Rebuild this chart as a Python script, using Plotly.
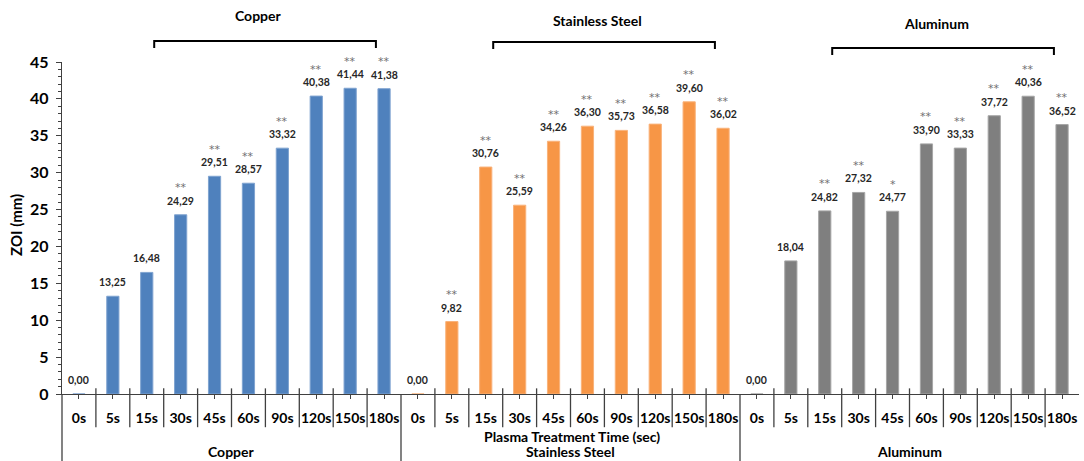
import plotly.graph_objects as go

# Zone of inhibition (mm) by plasma treatment time, for three metals
times = ["0s", "5s", "15s", "30s", "45s", "60s", "90s", "120s", "150s", "180s"]
materials = ["Copper", "Stainless Steel", "Aluminum"]

copper = [0.00, 13.25, 16.48, 24.29, 29.51, 28.57, 33.32, 40.38, 41.44, 41.38]
steel = [0.00, 9.82, 30.76, 25.59, 34.26, 36.30, 35.73, 36.58, 39.60, 36.02]
aluminum = [0.00, 18.04, 24.82, 27.32, 24.77, 33.90, 33.33, 37.72, 40.36, 36.52]

copper_sig = ["", "", "", "**", "**", "**", "**", "**", "**", "**"]
steel_sig = ["", "**", "**", "**", "**", "**", "**", "**", "**", "**"]
aluminum_sig = ["", "", "**", "**", "*", "**", "**", "**", "**", "**"]

series = [copper, steel, aluminum]
sigs = [copper_sig, steel_sig, aluminum_sig]
colors = ["#4F81BD", "#F79646", "#7F7F7F"]
edges = ["#7FA3D0", "#F9B27A", "#A6A6A6"]

FONT = "Lato"
n_t = len(times)
n_all = n_t * len(materials)

fig = go.Figure()
annotations = []
shapes = []


def xp(pos):
    # data position -> paper fraction on the [-0.5, n_all-0.5] axis
    return (pos + 0.5) / n_all


for g, (name, vals, sg) in enumerate(zip(materials, series, sigs)):
    xs = [g * n_t + i for i in range(n_t)]
    fig.add_trace(go.Bar(
        x=xs, y=vals, name=name, width=0.36,
        marker=dict(color=colors[g], line=dict(color=edges[g], width=1)),
        showlegend=False, hoverinfo="skip",
    ))
    for x, v, s in zip(xs, vals, sg):
        annotations.append(dict(
            x=x, y=v, xref="x", yref="y", text=f"{v:.2f}".replace(".", ","),
            showarrow=False, xanchor="center", yanchor="middle", yshift=14,
            font=dict(family=FONT, size=10.5, color="#262626", weight="bold"),
        ))
        if s:
            annotations.append(dict(
                x=x, y=v, xref="x", yref="y", text=s,
                showarrow=False, xanchor="center", yanchor="middle", yshift=27,
                font=dict(family="DejaVu Sans", size=11, color="#707070"),
            ))

# group names under the axis
group_label_y = -0.172
for g, name in enumerate(materials):
    annotations.append(dict(
        x=xp(g * n_t + (n_t - 1) / 2), y=group_label_y, xref="paper", yref="paper",
        text=name, showarrow=False, xanchor="center", yanchor="middle",
        font=dict(family=FONT, size=14, color="#000000", weight="bold"),
    ))

annotations.append(dict(
    x=xp(n_all / 2 - 0.45), y=-0.128, xref="paper", yref="paper",
    text="Plasma Treatment Time (sec)", showarrow=False,
    xanchor="center", yanchor="middle",
    font=dict(family=FONT, size=14, color="#000000", weight="bold"),
))

annotations.append(dict(
    x=-0.046, y=0.51, xref="paper", yref="paper", text="ZOI (mm)",
    textangle=-90, showarrow=False, xanchor="center", yanchor="middle",
    font=dict(family=FONT, size=15, color="#000000", weight="bold"),
))

# titles and brackets above the plot
title_y = [1.14, 1.125, 1.116]
bracket_top = [1.063, 1.06, 1.042]
bracket_drop = 0.021
for g, name in enumerate(materials):
    left = xp(g * n_t + 2.22)
    right = xp(g * n_t + 8.76)
    annotations.append(dict(
        x=(left + right) / 2 - 0.006, y=title_y[g], xref="paper", yref="paper",
        text=name, showarrow=False, xanchor="center", yanchor="middle",
        font=dict(family=FONT, size=14, color="#000000", weight="bold"),
    ))
    top = bracket_top[g]
    shapes.append(dict(
        type="path", xref="paper", yref="paper",
        path=f"M {left},{top - bracket_drop} L {left},{top} L {right},{top} L {right},{top - bracket_drop}",
        line=dict(color="#000000", width=2),
    ))

# dividers between time categories and between material groups
line_col = "#404040"
for k in range(n_all - 1):
    b = k + 0.5
    if (k + 1) % n_t == 0:
        shapes.append(dict(type="line", xref="paper", yref="paper",
                           x0=xp(b), x1=xp(b), y0=0, y1=-0.203,
                           line=dict(color=line_col, width=1.3)))
    else:
        shapes.append(dict(type="line", xref="paper", yref="paper",
                           x0=xp(b), x1=xp(b), y0=0.017, y1=-0.1,
                           line=dict(color=line_col, width=1.3)))
# y-axis line continues down through the label rows
shapes.append(dict(type="line", xref="paper", yref="paper",
                   x0=0, x1=0, y0=0, y1=-0.203,
                   line=dict(color=line_col, width=1.3)))

fig.update_layout(
    width=1084, height=461,
    margin=dict(l=62, r=5, t=62, b=67),
    paper_bgcolor="white", plot_bgcolor="white",
    bargap=0.6,
    annotations=annotations, shapes=shapes,
    font=dict(family=FONT),
    xaxis=dict(
        range=[-0.5, n_all - 0.5],
        tickmode="array", tickvals=list(range(n_all)), ticktext=times * len(materials),
        ticks="outside", ticklen=4, tickcolor=line_col, tickwidth=1.3,
        showline=True, linecolor=line_col, linewidth=1.3,
        showgrid=False, zeroline=False, ticklabelstandoff=7,
        tickfont=dict(family=FONT, size=14, color="#000000", weight="bold"),
    ),
    yaxis=dict(
        range=[0, 45], dtick=5, tick0=0,
        ticks="outside", ticklen=5, tickcolor=line_col, tickwidth=1.3,
        minor=dict(dtick=1, ticks="outside", ticklen=3, tickcolor=line_col, tickwidth=1),
        showline=True, linecolor=line_col, linewidth=1.3,
        showgrid=False, zeroline=False, ticklabelstandoff=4,
        tickfont=dict(family=FONT, size=16, color="#000000", weight="bold"),
    ),
    yaxis2=dict(
        range=[0, 45], dtick=5, tick0=0, overlaying="y", anchor="x", side="left",
        ticks="inside", ticklen=6, tickcolor=line_col, tickwidth=1.3,
        minor=dict(dtick=1, ticks="inside", ticklen=3, tickcolor=line_col, tickwidth=1),
        showticklabels=False, showline=False, showgrid=False, zeroline=False,
    ),
)

fig.write_html("out.html")
